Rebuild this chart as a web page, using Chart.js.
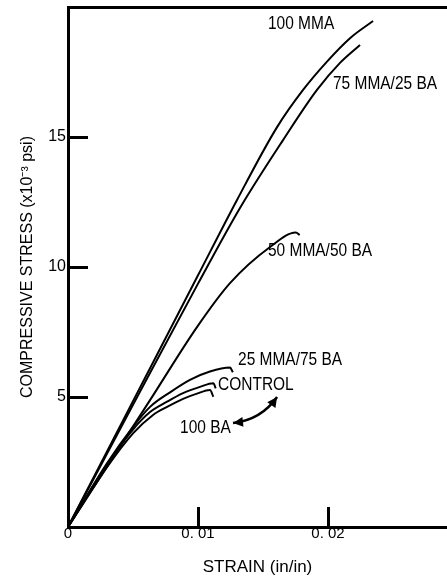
<!DOCTYPE html>
<html>
<head>
<meta charset="utf-8">
<script src="https://cdn.jsdelivr.net/npm/chart.js@4.4.0/dist/chart.umd.min.js"></script>
<style>
    html, body { margin: 0; padding: 0; background: #fff; }
    canvas { display: block; }
</style>
</head>
<body>
<canvas id="stressChart" width="447" height="584"></canvas>
<script>
// Compressive stress-strain curves, MMA/BA copolymer series

const seriesNames = ['100 MMA', '75 MMA/25 BA', '50 MMA/50 BA', '25 MMA/75 BA', 'CONTROL', '100 BA'];

const strain100MMA = [0, 0.005, 0.010, 0.0130, 0.01608, 0.01808, 0.01992, 0.02169, 0.02346];
const stress100MMA = [0, 4.84, 9.68, 12.58, 15.38, 16.81, 17.90, 18.80, 19.46];

const strain75MMA = [0, 0.005, 0.010, 0.01323, 0.01654, 0.01915, 0.02092, 0.02246];
const stress75MMA = [0, 4.70, 9.36, 12.27, 14.88, 16.81, 17.85, 18.54];

const strain50MMA = [0, 0.00631, 0.00992, 0.01246, 0.01554, 0.01752, 0.01782];
const stress50MMA = [0, 4.88, 7.69, 9.38, 10.77, 11.33, 11.23];

const strain25MMA = [0, 0.003, 0.005, 0.00631, 0.00785, 0.00938, 0.01092, 0.01246, 0.01268];
const stress25MMA = [0, 2.45, 3.85, 4.62, 5.18, 5.66, 5.98, 6.13, 5.95];

const strainControl = [0, 0.003, 0.005, 0.00631, 0.00762, 0.00885, 0.01015, 0.01118, 0.01136];
const stressControl = [0, 2.40, 3.75, 4.42, 4.82, 5.15, 5.39, 5.53, 5.33];

const strain100BA = [0, 0.003, 0.005, 0.00654, 0.00762, 0.00885, 0.00992, 0.01092, 0.01118];
const stress100BA = [0, 2.30, 3.60, 4.31, 4.62, 4.93, 5.13, 5.27, 5.01];

const xTickValues = [0, 0.01, 0.02];
const xTickLabels = ['0', '0. 01', '0. 02'];
const yTickValues = [5, 10, 15];
const yTickLabels = ['5', '10', '15'];

const TEXT_FONT = '"Liberation Sans", Arial, sans-serif';

function toPoints(xs, ys) {
    return xs.map((x, i) => ({ x: x, y: ys[i] }));
}

const curves = [
    [strain100MMA, stress100MMA],
    [strain75MMA, stress75MMA],
    [strain50MMA, stress50MMA],
    [strain25MMA, stress25MMA],
    [strainControl, stressControl],
    [strain100BA, stress100BA]
];

// where each curve name sits (left edge, vertical middle), in axis units
const curveNotes = [
    { name: '100 MMA', strain: 0.01538, stress: 19.35 },
    { name: '75 MMA/25 BA', strain: 0.02038, stress: 17.04 },
    { name: '50 MMA/50 BA', strain: 0.01538, stress: 10.62 },
    { name: '25 MMA/75 BA', strain: 0.01308, stress: 6.42 },
    { name: 'CONTROL', strain: 0.01154, stress: 5.46 },
    { name: '100 BA', strain: 0.00862, stress: 3.81 }
];

// curved double arrow linking the 100 BA and CONTROL names
const noteArrow = {
    from: { strain: 0.01269, stress: 4.0 },
    via: { strain: 0.01485, stress: 4.12 },
    to: { strain: 0.01608, stress: 5.0 }
};

function arrowHead(ctx, tipX, tipY, fromX, fromY) {
    const ang = Math.atan2(tipY - fromY, tipX - fromX);
    const len = 10, half = 5;
    ctx.beginPath();
    ctx.moveTo(tipX, tipY);
    ctx.lineTo(tipX - len * Math.cos(ang) + half * Math.sin(ang), tipY - len * Math.sin(ang) - half * Math.cos(ang));
    ctx.lineTo(tipX - len * Math.cos(ang) - half * Math.sin(ang), tipY - len * Math.sin(ang) + half * Math.cos(ang));
    ctx.closePath();
    ctx.fill();
}

const curveNotesPlugin = {
    id: 'curveNotes',
    afterDatasetsDraw(chart) {
        const { ctx, scales: { x, y } } = chart;
        ctx.save();
        ctx.fillStyle = '#000';
        ctx.strokeStyle = '#000';
        ctx.font = '18px ' + TEXT_FONT;
        ctx.textAlign = 'left';
        ctx.textBaseline = 'middle';
        // squeeze the names horizontally, typewriter-style narrow lettering
        const squeeze = 0.86;
        curveNotes.forEach(n => {
            ctx.save();
            ctx.translate(x.getPixelForValue(n.strain), y.getPixelForValue(n.stress));
            ctx.scale(squeeze, 1);
            ctx.fillText(n.name, 0, 0);
            ctx.restore();
        });

        const p0 = [x.getPixelForValue(noteArrow.from.strain), y.getPixelForValue(noteArrow.from.stress)];
        const c = [x.getPixelForValue(noteArrow.via.strain), y.getPixelForValue(noteArrow.via.stress)];
        const p2 = [x.getPixelForValue(noteArrow.to.strain), y.getPixelForValue(noteArrow.to.stress)];
        ctx.lineWidth = 2.5;
        ctx.beginPath();
        ctx.moveTo(p0[0], p0[1]);
        ctx.quadraticCurveTo(c[0], c[1], p2[0], p2[1]);
        ctx.stroke();
        arrowHead(ctx, p0[0], p0[1], c[0], c[1]);
        arrowHead(ctx, p2[0], p2[1], c[0], c[1]);
        ctx.restore();
    }
};

const ctx = document.getElementById('stressChart').getContext('2d');

new Chart(ctx, {
    type: 'scatter',
    data: {
        datasets: curves.map((c, i) => ({
            label: seriesNames[i],
            data: toPoints(c[0], c[1]),
            showLine: true,
            borderColor: '#000',
            borderWidth: 2,
            pointRadius: 0,
            cubicInterpolationMode: 'monotone',
            fill: false
        }))
    },
    options: {
        responsive: false,
        animation: false,
        layout: { padding: 0 },
        plugins: {
            legend: { display: false },
            tooltip: { enabled: false }
        },
        scales: {
            x: {
                type: 'linear',
                position: 'bottom',
                min: 0,
                max: 0.02915,
                afterBuildTicks: scale => { scale.ticks = xTickValues.map(v => ({ value: v })); },
                afterFit: scale => {
                    scale.height = 57;
                    scale.paddingLeft = 0;
                    scale.paddingRight = 0;
                },
                ticks: {
                    padding: 18,
                    color: '#000',
                    font: { family: TEXT_FONT, size: 15 },
                    maxRotation: 0,
                    callback: (value, index) => xTickLabels[index]
                },
                grid: {
                    drawOnChartArea: false,
                    drawTicks: true,
                    tickLength: -20,
                    tickWidth: 3,
                    tickColor: '#000'
                },
                border: { display: true, color: '#000', width: 3 },
                title: {
                    display: true,
                    text: 'STRAIN (in/in)',
                    color: '#000',
                    font: { family: TEXT_FONT, size: 17 },
                    padding: { top: 0, bottom: 6 }
                }
            },
            xTop: {
                type: 'linear',
                position: 'top',
                afterFit: scale => { scale.height = 7; },
                ticks: { display: false },
                grid: { display: false },
                border: { display: true, color: '#000', width: 3 }
            },
            y: {
                type: 'linear',
                position: 'left',
                min: 0,
                max: 20,
                afterBuildTicks: scale => { scale.ticks = yTickValues.map(v => ({ value: v })); },
                afterFit: scale => {
                    scale.width = 68;
                    scale.paddingTop = 0;
                    scale.paddingBottom = 0;
                },
                ticks: {
                    padding: 22,
                    color: '#000',
                    font: { family: TEXT_FONT, size: 16 },
                    callback: (value, index) => yTickLabels[index]
                },
                grid: {
                    drawOnChartArea: false,
                    drawTicks: true,
                    tickLength: -20,
                    tickWidth: 3,
                    tickColor: '#000'
                },
                border: { display: true, color: '#000', width: 3 },
                title: {
                    display: true,
                    text: 'COMPRESSIVE STRESS (x10\u207B\u00B3 psi)',
                    color: '#000',
                    font: { family: TEXT_FONT, size: 16 },
                    padding: { top: 18, bottom: 0 }
                }
            }
        }
    },
    plugins: [curveNotesPlugin]
});
</script>
</body>
</html>
